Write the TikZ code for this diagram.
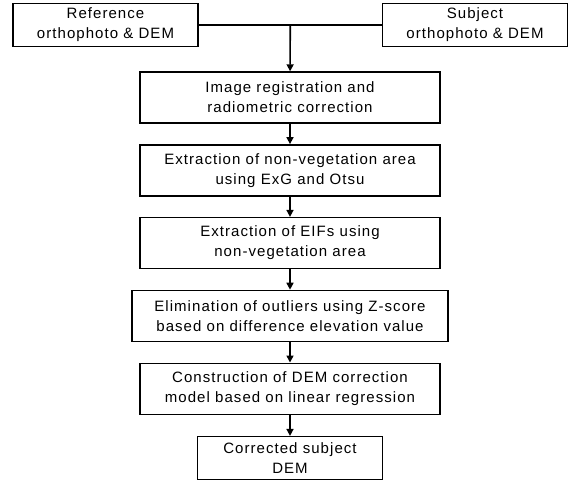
\documentclass[tikz,border=0pt]{standalone}
\usepackage{fontspec}
\setmainfont[LetterSpace=7]{Liberation Sans}
\usepackage{tikz}
\usetikzlibrary{calc,arrows.meta,positioning}
\tikzset{
  srcbox/.style={draw, line width=1.4pt, minimum width=185pt, minimum height=43pt, align=center, font=\fontsize{15}{20}\selectfont},
  stepbox/.style={draw, line width=1.4pt, minimum width=300pt, minimum height=51pt, align=center, font=\fontsize{15}{20}\selectfont},
  flow/.style={line width=1.6pt, -{Triangle[length=7pt,width=7pt]}},
  merge/.style={line width=2pt}
}

\begin{document}
\begin{tikzpicture}[x=1pt, y=1pt, node distance=20.4pt]
\useasboundingbox (0,0) rectangle (570,-482);
% input data
\node[srcbox] (ref) at (105.5,-25) {Reference\\orthophoto \& DEM};
\node[srcbox] (subj) at (475,-25) {Subject\\orthophoto \& DEM};
\coordinate (join) at ($(ref.east)!.5!(subj.west)$);
% processing chain
\node[stepbox] (reg) at (290,-97.5) {Image registration and\\radiometric correction};
\node[stepbox, below=of reg] (nonveg) {Extraction of non-vegetation area\\using ExG and Otsu};
\node[stepbox, below=of nonveg] (eif) {Extraction of EIFs using\\non-vegetation area};
\node[stepbox, minimum width=316pt, below=of eif] (zscore) {Elimination of outliers using Z-score\\based on difference elevation value};
\node[stepbox, below=of zscore] (model) {Construction of DEM correction\\model based on linear regression};
\node[srcbox, below=21pt of model] (out) {Corrected subject\\DEM};
% connectors
\draw[merge] (ref.east) -- (subj.west);
\draw[flow] (join) -- (reg);
\draw[flow] (reg) -- (nonveg);
\draw[flow] (nonveg) -- (eif);
\draw[flow] (eif) -- (zscore);
\draw[flow] (zscore) -- (model);
\draw[flow] (model) -- (out);
\end{tikzpicture}
\end{document}
